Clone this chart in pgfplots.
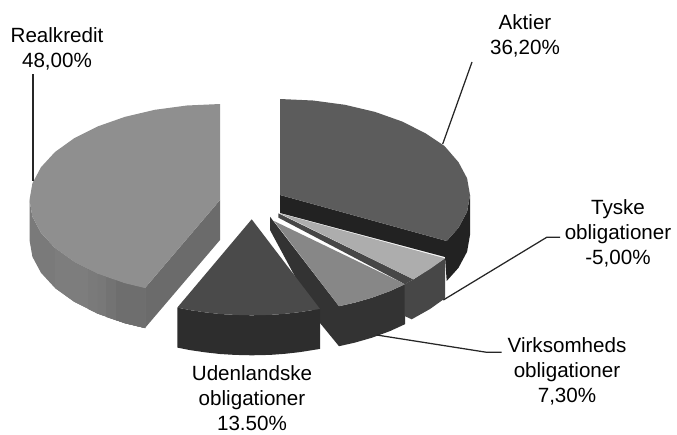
\documentclass[border=0pt]{standalone}
\usepackage{fontspec}
\setmainfont{Liberation Sans}
\usepackage{pgfplots}
\pgfplotsset{compat=1.18}
\definecolor{rtop}{gray}{0.56}
\definecolor{rcut}{gray}{0.42}
\definecolor{atop}{gray}{0.36}
\definecolor{aside}{gray}{0.135}
\definecolor{ttop}{gray}{0.68}
\definecolor{tside}{gray}{0.28}
\definecolor{vtop}{gray}{0.53}
\definecolor{vside}{gray}{0.2}
\definecolor{utop}{gray}{0.29}
\definecolor{uside}{gray}{0.175}
\newcommand{\lab}{\fontsize{20.6}{25}\selectfont}
\pgfplotsset{sl/.style={draw=none,fill=#1,forget plot}}
\begin{document}
\begin{tikzpicture}
\useasboundingbox (0,0) rectangle (677pt,434pt);
\begin{axis}[
  hide axis, scale only axis, width=677pt, height=434pt,
  xmin=0, xmax=677, ymin=0, ymax=434, y dir=reverse, clip=false]
% Aktier
\addplot[sl=aside] coordinates {(280,195) (446.7,241) (458.5,227.8) (467.1,211.7) (470,195) (470,235) (467.1,251.7) (458.5,267.8) (446.7,281) (445,257) (280,213)} --cycle;
\addplot[sl=atop] coordinates {(280,99) (313,100.5) (345,104.8) (375,111.9) (402.1,121.5) (425.5,133.3) (444.5,146) (458.5,162.2) (467.1,178.3) (470,195) (467.1,211.7) (458.5,227.8) (446.7,241) (280,195)} --cycle;
% Virksomheds
\addplot[sl=vside] coordinates {(270,216.7) (339,306.2) (355,302.6) (372,297.7) (390,291.1) (405,284.2) (405,324.2) (390,331.1) (372,337.7) (355,342.6) (339,346.2) (320,323) (270,230)} --cycle;
\addplot[sl=vtop] coordinates {(274,221) (405,284.2) (390,291.1) (372,297.7) (355,302.6) (339,306.2)} --cycle;
% Tyske
\addplot[sl=tside] coordinates {(278.3,213.3) (413.3,279.3) (405,284.2) (278.3,217.6)} --cycle;
\addplot[sl=tside] coordinates {(404.6,284.2) (414,279) (445,258.3) (445,298.3) (430,309) (411.7,319.3) (404.6,316)} --cycle;
\addplot[sl=ttop] coordinates {(280,213.5) (445,258.3) (430,269) (413.3,279.3)} --cycle;
% Udenlandske
\addplot[sl=uside] coordinates {(177.3,307.6) (190,310.1) (205,312.3) (220,314) (235,314.9) (251.7,315.3) (270,314.9) (285,313.8) (300,312.1) (320,308.9) (320,348.9) (300,352.1) (285,353.8) (270,354.9) (251.7,355.3) (235,354.9) (220,354) (205,352.3) (190,350.1) (177.3,347.6)} --cycle;
\addplot[sl=utop] coordinates {(251.7,219.3) (320,308.9) (300,312.1) (285,313.8) (270,314.9) (251.7,315.3) (235,314.9) (220,314) (205,312.3) (190,310.1) (177.3,307.6)} --cycle;
% Realkredit
\addplot[sl=rcut] coordinates {(220,200) (220,240) (145,328) (145,288)} --cycle;
\addplot[sl={black!52}] coordinates {(29.5,200) (32.4,216.7) (41,232.8) (55,248) (74.1,261.7) (97.5,273.5) (124.75,283.1) (145,288) (145,328) (124.75,323.1) (97.5,313.5) (74.1,301.7) (55,288) (41,272.8) (32.4,256.7) (29.5,240)} --cycle;
\addplot[sl={black!51}] coordinates {(55,248) (74.1,261.7) (97.5,273.5) (124.75,283.1) (145,288) (145,328) (124.75,323.1) (97.5,313.5) (74.1,301.7) (55,288)} --cycle;
\addplot[sl={black!52}] coordinates {(88,269) (97.5,273.5) (124.75,283.1) (145,288) (145,328) (124.75,323.1) (97.5,313.5) (88,309)} --cycle;
\addplot[sl={black!53}] coordinates {(97.5,273.5) (124.75,283.1) (145,288) (145,328) (124.75,323.1) (97.5,313.5)} --cycle;
\addplot[sl={black!55}] coordinates {(106,277) (124.75,283.1) (145,288) (145,328) (124.75,323.1) (106,317)} --cycle;
\addplot[sl={black!57}] coordinates {(116,280) (124.75,283.1) (145,288) (145,328) (124.75,323.1) (116,320)} --cycle;
\addplot[sl=rtop] coordinates {(220,104) (186.9,105.5) (154.8,109.8) (124.75,116.9) (97.5,126.5) (74.1,138.3) (55,152) (41,167.2) (32.4,183.3) (29.5,200) (32.4,216.7) (41,232.8) (55,248) (74.1,261.7) (97.5,273.5) (124.75,283.1) (145,288) (220,200)} --cycle;
% leader lines
\addplot[forget plot,line width=1.25pt,color=black!85] coordinates {(33,74) (33,181)};
\addplot[forget plot,line width=1.25pt,color=black!85] coordinates {(472,62) (442.7,144)};
\addplot[forget plot,line width=1.25pt,color=black!85] coordinates {(560,237.3) (546.7,237.3) (443.3,300)};
\addplot[forget plot,line width=1.25pt,color=black!85] coordinates {(501.7,352.3) (486.7,352.3) (376.7,335)};
% labels
\node[align=center,inner sep=0pt,font=\lab] at (axis cs:57,48.5) {Realkredit\\48,00\%};
\node[align=center,inner sep=0pt,font=\lab] at (axis cs:525,35.5) {Aktier\\36,20\%};
\node[align=center,inner sep=0pt,font=\lab] at (axis cs:618,233) {Tyske\\obligationer\\-5,00\%};
\node[align=center,inner sep=0pt,font=\lab] at (axis cs:567,371.5) {Virksomheds\\obligationer\\7,30\%};
\node[align=center,inner sep=0pt,font=\lab] at (axis cs:252,398) {Udenlandske\\obligationer\\13.50\%};
\end{axis}
\end{tikzpicture}
\end{document}
